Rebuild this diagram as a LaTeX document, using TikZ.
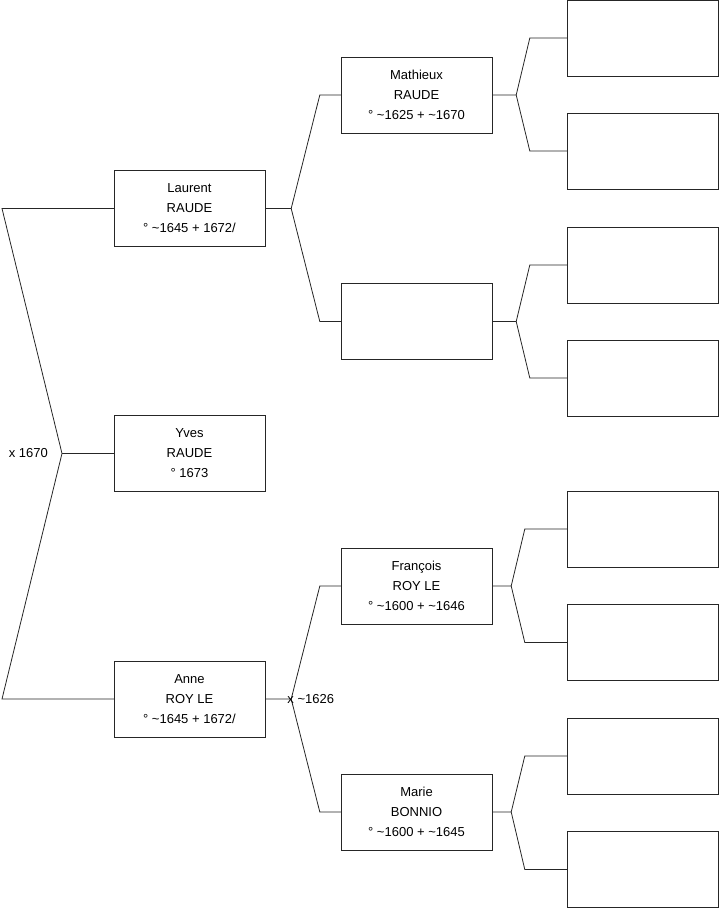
\documentclass[tikz,border=0pt]{standalone}
\usepackage{fontspec}
\setmainfont{Liberation Sans}
\newcommand{\abt}{\textasciitilde}

\begin{document}
\begin{tikzpicture}[x=1pt,y=-1pt,
  fiche/.style={draw=black!85, rectangle, minimum width=151pt, minimum height=76pt,
    inner sep=0pt, align=center, font=\fontsize{13}{20}\selectfont},
  trait/.style={draw=black!85, line width=0.8pt},
  mariage/.style={inner sep=0pt, font=\fontsize{13}{20}\selectfont}]
\useasboundingbox (0,0) rectangle (719,908);

% Generation 1: child and parents
\node[fiche] (laurent) at (189.5,208.5) {Laurent\\RAUDE\\° \abt1645 + 1672/};
\node[fiche] (yves) at (189.5,453.5) {Yves\\RAUDE\\° 1673};
\node[fiche] (anne) at (189.5,699) {Anne\\ROY LE\\° \abt1645 + 1672/};

% Generation 2: grandparents
\node[fiche] (mathieux) at (416.5,95) {Mathieux\\RAUDE\\° \abt1625 + \abt1670};
\node[fiche] (pere2) at (416.5,321.5) {};
\node[fiche] (francois) at (416.5,586) {François\\ROY LE\\° \abt1600 + \abt1646};
\node[fiche] (marie) at (416.5,812) {Marie\\BONNIO\\° \abt1600 + \abt1645};

% Generation 3: empty boxes
\foreach \n/\y in {a/38,b/151,c/265,d/378,e/529,f/642.5,g/756,h/869.5} {
  \node[fiche] (g3\n) at (642.5,\y) {};
}

% Root couple fork
\coordinate (j0) at (62,453.5);
\coordinate (ht) at (2,208.5);
\coordinate (bs) at (2,699);
\draw[trait] (laurent.west) -- (ht) -- (j0) -- (bs) -- (anne.west);
\draw[trait] (j0) -- (yves.west);
\node[mariage, anchor=east] (mar1) at ([xshift=-14]j0) {x 1670};

% Forks: parent / father / mother / stem / kink
\foreach \p/\a/\b/\d/\k in {laurent/mathieux/pere2/26/21, anne/francois/marie/26/21,
    mathieux/g3a/g3b/24/37, pere2/g3c/g3d/24/37,
    francois/g3e/g3f/19/42, marie/g3g/g3h/19/42} {
  \draw[trait] (\p.east) -- ++(\d,0) coordinate (j\p) -- ([xshift=-\k]\a.west) -- (\a.west);
  \draw[trait] (j\p) -- ([xshift=-\k]\b.west) -- (\b.west);
}
\node[mariage, anchor=west] (mar2) at ([xshift=-4]janne) {x \abt1626};
\end{tikzpicture}
\end{document}
